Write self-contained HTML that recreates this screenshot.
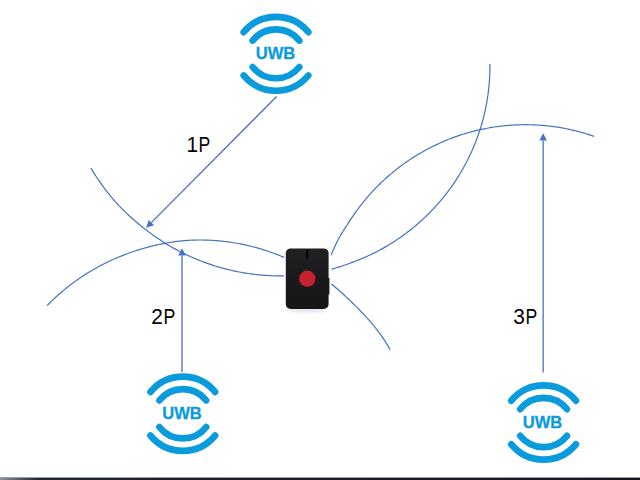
<!DOCTYPE html>
<html><head><meta charset="utf-8"><title>UWB</title>
<style>
html,body{margin:0;padding:0;background:#fff;}
body{width:640px;height:480px;overflow:hidden;position:relative;font-family:"Liberation Sans",sans-serif;}
svg{position:absolute;left:0;top:0;display:block;}
</style></head><body>
<svg width="640" height="480" viewBox="0 0 640 480">
<defs>
<linearGradient id="bar" x1="0" x2="1" y1="0" y2="0"><stop offset="0" stop-color="#8d949e"/><stop offset="0.06" stop-color="#20242e"/><stop offset="1" stop-color="#15171d"/></linearGradient>
<filter id="sh" x="-20%" y="-50%" width="140%" height="300%"><feGaussianBlur stdDeviation="1.6"/></filter>
<linearGradient id="body" x1="0" y1="0" x2="0" y2="1"><stop offset="0" stop-color="#212123"/><stop offset="0.5" stop-color="#1a1a1c"/><stop offset="1" stop-color="#161617"/></linearGradient>
</defs>
<rect width="640" height="480" fill="#fff"/>
<g fill="none" stroke="#4472C4" stroke-width="1.2" stroke-linejoin="round"><path d="M90.91 168.02L91.68 169.32L92.46 170.60L93.24 171.89L94.04 173.16L94.84 174.43L95.65 175.70L96.47 176.96L97.30 178.21L98.14 179.46L98.99 180.71L99.84 181.94L100.71 183.17L101.58 184.40L102.46 185.62L103.35 186.83L104.24 188.04L105.15 189.24L106.06 190.43L106.98 191.62L107.91 192.81L108.85 193.98L109.79 195.15L110.75 196.31L111.71 197.47L112.68 198.62L113.66 199.76L114.64 200.90L115.64 202.03L116.65 203.15L117.67 204.26L118.70 205.36L119.74 206.46L120.79 207.55L121.85 208.63L122.92 209.70L123.99 210.77L125.08 211.83L126.17 212.88L127.27 213.92L128.38 214.96L129.50 215.99L130.62 217.01L131.75 218.02L132.88 219.03L134.02 220.03L135.17 221.02L136.32 222.01L137.47 222.98L138.63 223.96L139.80 224.92L140.97 225.87L142.14 226.82L143.32 227.76L144.51 228.70L145.69 229.63L146.88 230.54L148.08 231.46L149.28 232.36L150.49 233.25L151.70 234.14L152.92 235.02L154.15 235.89L155.38 236.75L156.62 237.60L157.87 238.45L159.12 239.28L160.37 240.11L161.63 240.93L162.90 241.74L164.17 242.54L165.45 243.33L166.73 244.12L168.02 244.89L169.32 245.66L170.61 246.41L171.92 247.16L173.23 247.90L174.54 248.63L175.86 249.35L177.19 250.07L178.51 250.77L179.85 251.46L181.19 252.15L182.53 252.82L183.88 253.49L185.23 254.15L186.59 254.80L187.95 255.43L189.31 256.06L190.68 256.68L192.06 257.29L193.44 257.90L194.82 258.49L196.21 259.07L197.60 259.64L198.99 260.21L200.39 260.76L201.79 261.30L203.20 261.84L204.61 262.36L206.02 262.88L207.43 263.38L208.85 263.88L210.28 264.36L211.70 264.84L213.13 265.31L214.57 265.76L216.00 266.21L217.44 266.65L218.88 267.07L220.33 267.49L221.77 267.90L223.22 268.30L224.68 268.68L226.13 269.06L227.59 269.43L229.05 269.79L230.51 270.13L231.98 270.47L233.45 270.80L234.92 271.11L236.39 271.42L237.86 271.72L239.34 272.01L240.82 272.28L242.30 272.55L243.78 272.81L245.26 273.05L246.75 273.29L248.23 273.52L249.72 273.73L251.21 273.94L252.70 274.13L254.19 274.32L255.69 274.49L257.18 274.66L258.68 274.81L260.17 274.96L261.67 275.09L263.17 275.21L264.67 275.33L266.17 275.43L267.67 275.52L269.17 275.61L270.67 275.68L272.18 275.74L273.68 275.79L275.18 275.84L276.69 275.87L278.19 275.89L279.69 275.90L281.20 275.90L282.70 275.89L284.20 275.87"/><path d="M47.07 305.68L48.12 304.61L49.17 303.54L50.24 302.48L51.31 301.42L52.40 300.38L53.48 299.34L54.58 298.31L55.68 297.29L56.79 296.27L57.91 295.26L59.04 294.26L60.17 293.27L61.31 292.29L62.45 291.31L63.60 290.35L64.76 289.39L65.93 288.44L67.10 287.50L68.28 286.56L69.46 285.64L70.66 284.72L71.86 283.81L73.06 282.91L74.27 282.02L75.49 281.13L76.71 280.26L77.94 279.39L79.18 278.53L80.42 277.69L81.67 276.85L82.92 276.02L84.18 275.19L85.45 274.38L86.72 273.58L88.00 272.78L89.28 271.99L90.57 271.22L91.86 270.45L93.16 269.69L94.47 268.94L95.77 268.20L97.09 267.47L98.41 266.75L99.73 266.04L101.06 265.33L102.40 264.64L103.74 263.95L105.08 263.28L106.43 262.61L107.79 261.96L109.15 261.31L110.51 260.68L111.88 260.05L113.25 259.43L114.62 258.82L116.00 258.23L117.39 257.64L118.78 257.06L120.17 256.49L121.57 255.93L122.97 255.38L124.37 254.84L125.78 254.30L127.19 253.78L128.61 253.26L130.02 252.75L131.45 252.25L132.87 251.76L134.30 251.27L135.73 250.80L137.16 250.33L138.60 249.88L140.04 249.43L141.48 248.99L142.93 248.56L144.38 248.14L145.83 247.73L147.28 247.33L148.74 246.94L150.20 246.56L151.66 246.18L153.13 245.82L154.59 245.47L156.06 245.13L157.53 244.80L159.00 244.48L160.48 244.16L161.95 243.86L163.43 243.57L164.91 243.29L166.40 243.02L167.88 242.77L169.36 242.52L170.85 242.28L172.34 242.06L173.83 241.84L175.32 241.64L176.81 241.45L178.31 241.27L179.80 241.10L181.30 240.95L182.80 240.80L184.29 240.67L185.79 240.55L187.29 240.44L188.79 240.34L190.29 240.25L191.80 240.18L193.30 240.12L194.80 240.07L196.31 240.03L197.81 240.01L199.31 240.00L200.82 240.00L202.32 240.01L203.83 240.04L205.33 240.07L206.83 240.12L208.34 240.17L209.84 240.24L211.34 240.31L212.84 240.40L214.35 240.50L215.85 240.61L217.35 240.72L218.84 240.85L220.34 240.99L221.84 241.14L223.34 241.30L224.83 241.48L226.32 241.66L227.81 241.85L229.31 242.05L230.79 242.27L232.28 242.49L233.77 242.73L235.25 242.97L236.73 243.23L238.22 243.49L239.69 243.77L241.17 244.06L242.65 244.36L244.12 244.66L245.59 244.98L247.06 245.31L248.52 245.65L249.98 246.00L251.45 246.36L252.90 246.73L254.36 247.11L255.81 247.50L257.26 247.90L258.71 248.31L260.15 248.73L261.59 249.17L263.03 249.61L264.47 250.06L265.90 250.52L267.33 250.99L268.75 251.47L270.17 251.97L271.59 252.47L273.01 252.98L274.42 253.50L275.82 254.04L277.23 254.58L278.63 255.13L280.02 255.69L281.41 256.26L282.80 256.85L284.18 257.44"/><path d="M489.89 64.00L489.90 65.50L489.90 67.00L489.89 68.50L489.87 70.00L489.83 71.50L489.79 73.00L489.74 74.50L489.67 76.00L489.60 77.50L489.51 79.00L489.41 80.49L489.31 81.99L489.19 83.49L489.06 84.98L488.92 86.48L488.77 87.97L488.61 89.46L488.43 90.95L488.25 92.44L488.06 93.93L487.85 95.41L487.64 96.90L487.41 98.38L487.17 99.86L486.93 101.34L486.67 102.82L486.40 104.30L486.12 105.77L485.83 107.24L485.53 108.71L485.22 110.18L484.89 111.65L484.56 113.11L484.22 114.57L483.87 116.03L483.50 117.48L483.13 118.94L482.74 120.39L482.35 121.83L481.94 123.28L481.52 124.72L481.10 126.16L480.66 127.59L480.21 129.03L479.75 130.45L479.29 131.88L478.81 133.30L478.32 134.72L477.82 136.14L477.31 137.55L476.79 138.95L476.26 140.36L475.72 141.76L475.17 143.15L474.61 144.55L474.04 145.93L473.46 147.32L472.87 148.70L472.27 150.07L471.67 151.44L471.05 152.81L470.42 154.17L469.78 155.53L469.13 156.88L468.47 158.23L467.80 159.57L467.12 160.91L466.44 162.25L465.74 163.58L465.03 164.90L464.32 166.22L463.59 167.53L462.85 168.84L462.11 170.14L461.36 171.44L460.59 172.73L459.82 174.02L459.04 175.30L458.25 176.57L457.45 177.84L456.64 179.10L455.82 180.36L454.99 181.61L454.15 182.86L453.31 184.10L452.45 185.33L451.59 186.56L450.72 187.78L449.84 188.99L448.95 190.20L448.05 191.40L447.14 192.60L446.23 193.79L445.30 194.97L444.37 196.14L443.43 197.31L442.48 198.47L441.52 199.63L440.55 200.77L439.58 201.92L438.60 203.05L437.60 204.18L436.61 205.30L435.60 206.41L434.58 207.51L433.56 208.61L432.53 209.70L431.49 210.78L430.44 211.86L429.39 212.93L428.33 213.99L427.26 215.05L426.18 216.10L425.10 217.15L424.00 218.18L422.90 219.21L421.80 220.23L420.68 221.24L419.56 222.24L418.43 223.24L417.30 224.23L416.15 225.21L415.00 226.18L413.85 227.14L412.68 228.09L411.51 229.04L410.34 229.98L409.15 230.91L407.96 231.83L406.77 232.74L405.56 233.64L404.35 234.54L403.14 235.42L401.91 236.30L400.69 237.17L399.45 238.03L398.21 238.88L396.96 239.72L395.71 240.55L394.45 241.38L393.19 242.19L391.91 243.00L390.64 243.79L389.36 244.58L388.07 245.36L386.78 246.13L385.48 246.89L384.17 247.64L382.86 248.38L381.55 249.11L380.23 249.83L378.90 250.53L377.57 251.23L376.24 251.91L374.90 252.59L373.55 253.26L372.21 253.91L370.85 254.56L369.49 255.19L368.13 255.82L366.76 256.44L365.39 257.04L364.01 257.64L362.63 258.23L361.25 258.80L359.86 259.37L358.46 259.93L357.07 260.47L355.67 261.02L354.26 261.58L352.85 262.14L351.44 262.68L350.02 263.21L348.60 263.73L347.18 264.25L345.76 264.75L344.33 265.24L342.89 265.72L341.46 266.20L340.02 266.66L338.57 267.11L337.13 267.55L335.68 267.98L334.23 268.40L332.78 268.81L331.32 269.21"/><path d="M593.99 136.31L592.57 135.82L591.14 135.34L589.71 134.87L588.28 134.41L586.84 133.96L585.40 133.52L583.96 133.09L582.51 132.67L581.06 132.27L579.61 131.87L578.15 131.48L576.70 131.11L575.24 130.74L573.77 130.39L572.31 130.05L570.84 129.71L569.37 129.39L567.90 129.08L566.42 128.78L564.94 128.48L563.46 128.20L561.98 127.93L560.50 127.68L559.02 127.43L557.53 127.19L556.04 126.96L554.55 126.75L553.06 126.54L551.57 126.35L550.07 126.16L548.58 125.99L547.08 125.83L545.58 125.68L544.08 125.54L542.58 125.41L541.08 125.29L539.58 125.18L538.08 125.09L536.57 125.00L535.07 124.92L533.57 124.86L532.06 124.81L530.56 124.76L529.05 124.73L527.55 124.71L526.04 124.70L524.54 124.70L523.03 124.71L521.53 124.74L520.02 124.77L518.52 124.81L517.01 124.87L515.51 124.93L514.00 125.01L512.50 125.10L511.00 125.20L509.50 125.31L508.00 125.43L506.50 125.56L505.00 125.70L503.50 125.85L502.00 126.02L500.51 126.19L499.01 126.38L497.52 126.57L496.03 126.78L494.54 127.00L493.05 127.22L491.56 127.46L490.08 127.71L488.60 127.97L487.12 128.24L485.64 128.53L484.16 128.82L482.69 129.12L481.21 129.44L479.74 129.76L478.28 130.10L476.81 130.44L475.35 130.80L473.89 131.16L472.43 131.54L470.98 131.93L469.52 132.33L468.07 132.74L466.63 133.15L465.19 133.58L463.75 134.02L462.31 134.47L460.88 134.94L459.45 135.41L458.02 135.89L456.60 136.38L455.18 136.88L453.76 137.39L452.35 137.92L450.94 138.45L449.54 138.99L448.14 139.54L446.74 140.11L445.35 140.68L443.96 141.26L442.58 141.86L441.20 142.46L439.82 143.07L438.45 143.70L437.08 144.33L435.72 144.97L434.37 145.62L433.01 146.29L431.67 146.96L430.32 147.64L428.99 148.33L427.66 149.03L426.33 149.74L425.01 150.46L423.69 151.19L422.38 151.93L421.07 152.68L419.77 153.44L418.48 154.20L417.19 154.98L415.90 155.77L414.62 156.56L413.35 157.37L412.08 158.18L410.82 159.00L409.57 159.84L408.32 160.68L407.08 161.53L405.84 162.39L404.61 163.25L403.39 164.13L402.17 165.01L400.96 165.91L399.75 166.81L398.55 167.72L397.36 168.64L396.18 169.57L395.00 170.51L393.83 171.46L392.66 172.41L391.51 173.37L390.36 174.34L389.21 175.32L388.08 176.31L386.95 177.31L385.82 178.31L384.71 179.32L383.60 180.34L382.50 181.37L381.41 182.41L380.32 183.45L379.25 184.50L378.18 185.56L377.12 186.63L376.06 187.70L375.01 188.78L373.98 189.87L372.94 190.97L371.92 192.07L370.91 193.19L369.90 194.31L368.90 195.43L367.91 196.57L366.93 197.71L365.95 198.85L364.99 200.01L364.03 201.17L363.08 202.34L362.14 203.51L361.21 204.70L360.28 205.89L359.37 207.08L358.46 208.28L357.56 209.49L356.68 210.71L355.80 211.93L354.92 213.16L354.06 214.39L353.21 215.63L352.36 216.88L351.53 218.13L350.70 219.39L349.88 220.65L349.06 221.92L348.23 223.20L347.39 224.48L346.56 225.77L345.72 227.06L344.89 228.36L344.06 229.66L343.24 230.97L342.42 232.29L341.62 233.61L340.83 234.93L340.05 236.26L339.29 237.60L338.55 238.94L337.83 240.29L337.14 241.64L336.48 242.99L335.83 244.35L335.19 245.71L334.57 247.08L333.95 248.46L333.34 249.83L332.74 251.22L332.16 252.60L331.58 253.99L331.01 255.39"/><path d="M331.56 284.04L332.73 285.01L333.90 285.99L335.06 286.97L336.21 287.96L337.37 288.96L338.51 289.96L339.65 290.97L340.79 291.98L341.92 293.00L343.05 294.03L344.17 295.06L345.29 296.10L346.41 297.14L347.53 298.19L348.65 299.25L349.77 300.31L350.88 301.38L352.00 302.45L353.11 303.53L354.22 304.61L355.31 305.70L356.41 306.80L357.50 307.90L358.59 309.00L359.68 310.12L360.76 311.23L361.84 312.36L362.91 313.48L363.97 314.62L365.03 315.76L366.08 316.90L367.13 318.05L368.18 319.21L369.22 320.37L370.25 321.53L371.27 322.70L372.27 323.88L373.26 325.06L374.21 326.25L375.15 327.44L376.09 328.64L377.01 329.84L377.93 331.04L378.84 332.25L379.73 333.47L380.63 334.69L381.51 335.92L382.38 337.15L383.25 338.38L384.09 339.62L384.89 340.87L385.68 342.11L386.44 343.37L387.19 344.63L387.94 345.89L388.66 347.16L389.36 348.43L390.05 349.70"/></g>
<line x1="276.6" y1="96.5" x2="151.34" y2="222.62" stroke="#4472C4" stroke-width="1.3"/><polygon points="146.2,227.8 148.68,219.98 154.00,225.26" fill="#4472C4"/>
<line x1="182" y1="372" x2="182.00" y2="255.60" stroke="#4472C4" stroke-width="1.3"/><polygon points="182,248.3 185.75,255.60 178.25,255.60" fill="#4472C4"/>
<line x1="543.15" y1="372.5" x2="543.15" y2="140.50" stroke="#4472C4" stroke-width="1.3"/><polygon points="543.15,133.2 546.90,140.50 539.40,140.50" fill="#4472C4"/>
<g transform="translate(276 53.8) scale(1 1.02)" fill="none" stroke="#0A9BDD" stroke-width="6.5" stroke-linecap="round"><path d="M-32.40 -21.20A42.5 42.5 0 0 1 32.40 -21.20"/><path d="M-32.40 21.20A42.5 42.5 0 0 0 32.40 21.20"/><path d="M-23.40 -12.95A30.3 30.3 0 0 1 23.40 -12.95"/><path d="M-23.40 12.95A30.3 30.3 0 0 0 23.40 12.95"/></g><text x="275.5" y="59.39999999999999" text-anchor="middle" font-family="Liberation Sans, sans-serif" font-weight="bold" font-size="16.4" fill="#0A9BDD" stroke="#0A9BDD" stroke-width="0.3" textLength="39.5" lengthAdjust="spacingAndGlyphs">UWB</text>
<g transform="translate(182.8 413.75) scale(1 1.025)" fill="none" stroke="#0A9BDD" stroke-width="6.5" stroke-linecap="round"><path d="M-32.40 -21.20A42.5 42.5 0 0 1 32.40 -21.20"/><path d="M-32.40 21.20A42.5 42.5 0 0 0 32.40 21.20"/><path d="M-23.40 -12.95A30.3 30.3 0 0 1 23.40 -12.95"/><path d="M-23.40 12.95A30.3 30.3 0 0 0 23.40 12.95"/></g><text x="182.0" y="419.45" text-anchor="middle" font-family="Liberation Sans, sans-serif" font-weight="bold" font-size="16.4" fill="#0A9BDD" stroke="#0A9BDD" stroke-width="0.3" textLength="39.5" lengthAdjust="spacingAndGlyphs">UWB</text>
<g transform="translate(543.6 422.5) scale(1 1.025)" fill="none" stroke="#0A9BDD" stroke-width="6.5" stroke-linecap="round"><path d="M-32.40 -21.20A42.5 42.5 0 0 1 32.40 -21.20"/><path d="M-32.40 21.20A42.5 42.5 0 0 0 32.40 21.20"/><path d="M-23.40 -12.95A30.3 30.3 0 0 1 23.40 -12.95"/><path d="M-23.40 12.95A30.3 30.3 0 0 0 23.40 12.95"/></g><text x="542.5" y="428.05" text-anchor="middle" font-family="Liberation Sans, sans-serif" font-weight="bold" font-size="16.4" fill="#0A9BDD" stroke="#0A9BDD" stroke-width="0.3" textLength="39.5" lengthAdjust="spacingAndGlyphs">UWB</text>
<g font-family="Liberation Sans, sans-serif" font-size="21.4" fill="#000">
<text transform="translate(186.5 151.7) scale(0.975 1)">1</text><text transform="translate(198.6 151.7) scale(0.825 1)">P</text>
<text transform="translate(151.2 323.8) scale(0.975 1)">2</text><text transform="translate(163.6 323.8) scale(0.825 1)">P</text>
<text transform="translate(513.35 324) scale(0.975 1)">3</text><text transform="translate(525.5 324) scale(0.825 1)">P</text>
</g>
<!-- device -->
<rect x="284.3" y="246" width="46.3" height="70" fill="#fff"/>
<ellipse cx="307.3" cy="310.3" rx="20" ry="1.8" fill="#dbe1e8" filter="url(#sh)"/>
<rect x="327" y="278" width="2.6" height="16.4" rx="0.7" fill="#1d1d1f"/>
<rect x="329.6" y="279" width="0.5" height="14.5" fill="#d8d8dc"/>
<rect x="285.8" y="248.4" width="42.8" height="60.6" rx="4.8" fill="url(#body)"/>
<rect x="306.3" y="249.6" width="1.8" height="9.2" rx="0.8" fill="#000"/>
<circle cx="307.3" cy="278.65" r="8.15" fill="#c8202e"/>
<!-- bottom strip -->
<rect x="0" y="477" width="640" height="1" fill="#9a9da3"/>
<rect x="0" y="478" width="640" height="2" fill="url(#bar)"/>
</svg>
</body></html>
